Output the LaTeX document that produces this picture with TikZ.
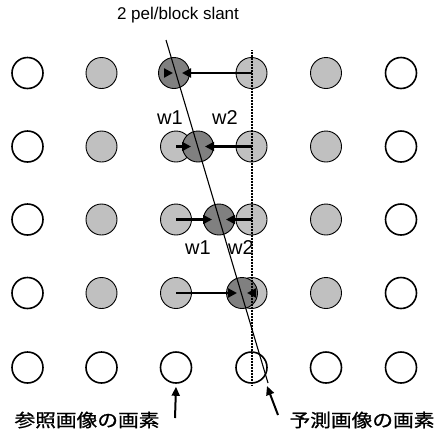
\documentclass[tikz,border=0pt]{standalone}
\usepackage{fontspec}
\usepackage{graphicx}
\setmainfont{Liberation Sans}
\newfontfamily\jpfont{Noto Sans CJK JP}[FakeBold=0.8]
\usetikzlibrary{arrows.meta,calc}
\definecolor{lightg}{RGB}{192,192,192}
\definecolor{darkg}{RGB}{128,128,128}
\begin{document}
\begin{tikzpicture}[x=1pt,y=-1pt,
  pix/.style={circle,draw=black,minimum size=31pt,inner sep=0pt,line width=0.9pt},
  wpix/.style={pix,fill=white,line width=1.6pt},
  gpix/.style={pix,fill=lightg},
  dpix/.style={pix,fill=darkg},
  warrow/.style={line width=2.2pt,-{Triangle[length=9pt,width=9pt]}},
  parrow/.style={line width=2pt,-{Triangle[length=9pt,width=8pt]}},
  lbl/.style={font=\fontsize{17}{20}\selectfont,inner sep=0pt},
  wlbl/.style={font=\fontsize{20}{22}\selectfont,inner sep=0pt},
  jlbl/.style={font=\fontsize{18}{20}\selectfont\jpfont,inner sep=0pt}
]
\useasboundingbox (0,0) rectangle (439,437);
% white border columns and grey reference pixels
\foreach \r/\y in {1/73,2/146.5,3/219.5,4/293}{
  \node[wpix] (w\r1) at (27.5,\y) {};
  \node[wpix] (w\r6) at (401,\y) {};
  \node[gpix] (g\r2) at (101.5,\y) {};
  \node[gpix] (g\r5) at (326,\y) {};
  \node[gpix] (g\r4) at (251.5,\y) {};
}
\foreach \r/\y in {2/146.5,3/219.5,4/293}{
  \node[gpix] (g\r3) at (176,\y) {};
}
\foreach \c/\x in {1/27.5,2/101.5,3/176,4/251.5,5/326,6/401}{
  \node[wpix] (w5\c) at (\x,367.5) {};
}
% predicted (dark) pixels
\node[dpix] (d1) at (174,73) {};
\node[dpix] (d2) at (198,146.5) {};
\node[dpix] (d3) at (219,219.5) {};
\node[dpix] (d4) at (242,293) {};
% arrows
\coordinate (a1l) at ($(d1.center)+(-9,0)$);
\draw[warrow] (a1l) -- ($(d1.center)+(-1,0)$);
\draw[warrow] (g14.center) -- ($(d1.center)+(8,0)$);
\draw[warrow] (g23.center) -- ($(d2.center)+(-7,0)$);
\draw[warrow] (g24.center) -- ($(d2.center)+(7,0)$);
\draw[warrow] (g33.center) -- ($(d3.center)+(-7,0)$);
\draw[warrow] (g34.center) -- ($(d3.center)+(7,0)$);
\draw[warrow] (g43.center) -- ($(d4.center)+(-5,0)$);
\draw[warrow] (g44.center) -- ($(d4.center)+(5,0)$);
% lines
\coordinate (vt) at (252,50);
\coordinate (vb) at (252,385);
\draw[line width=1.4pt,dash pattern=on 1pt off 0.5pt] (vt) -- (vb);
\coordinate (st) at (166,40);
\coordinate (sb) at (268,383);
\draw[line width=1.1pt] (st) -- (sb);
% labels
\node[lbl] (title) at (178,15) {2 pel/block slant};
\node[wlbl] (w1a) at (170,118) {w1};
\node[wlbl] (w2a) at (225,118) {w2};
\node[wlbl] (w1b) at (198,248) {w1};
\node[wlbl] (w2b) at (241,248) {w2};
\node[jlbl] (ref) at (87,420) {\scalebox{1.15}[1]{参照画像の画素}};
\node[jlbl] (pred) at (362,420) {\scalebox{1.15}[1]{予測画像の画素}};
% pointer arrows
\coordinate (p1t) at (175,418);
\coordinate (p2t) at (278,415);
\draw[parrow] (p1t) -- ($(w53.south)+(0,3)$);
\draw[parrow] (p2t) -- (267,386);
\end{tikzpicture}
\end{document}
